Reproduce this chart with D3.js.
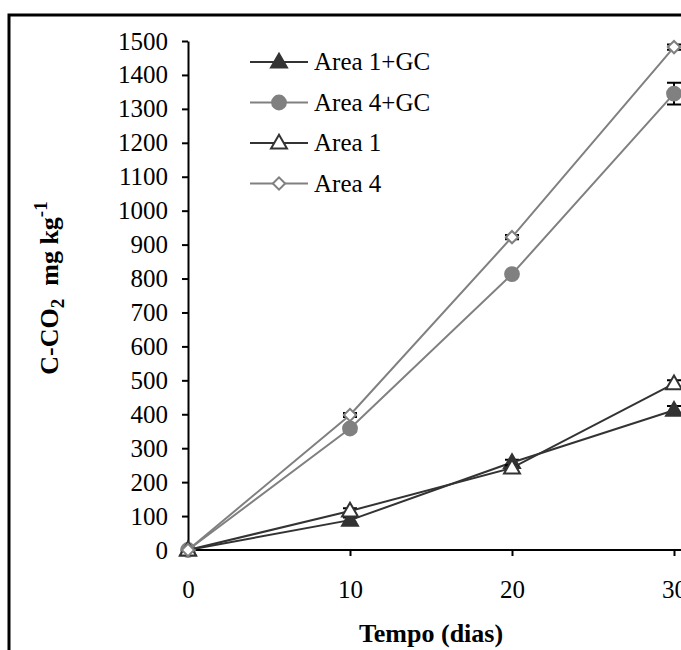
<!DOCTYPE html>
<html>
<head>
<meta charset="utf-8">
<script src="https://cdn.jsdelivr.net/npm/d3@7"></script>
<style>
  body { margin: 0; background: #fff; }
  svg { display: block; }
  svg text { font-family: "Liberation Serif", "DejaVu Serif", "Times New Roman", serif; }
</style>
</head>
<body>
<svg id="chart"></svg>
<script>
// days and series values
const days = [0, 10, 20, 30];
const area1GC = [0, 88, 258, 412];
const area4GC = [0, 358, 813, 1345];
const area1 = [0, 115, 242, 490];
const area4 = [0, 398, 922, 1482];
// standard errors (approx)
const area1GCErr = [0, 8, 8, 12];
const area4GCErr = [0, 8, 6, 32];
const area1Err = [0, 8, 8, 10];
const area4Err = [0, 6, 6, 8];
const yTicks = [0, 100, 200, 300, 400, 500, 600, 700, 800, 900, 1000, 1100, 1200, 1300, 1400, 1500];
const xTicks = [0, 10, 20, 30];

const width = 681, height = 650;
const serif = "'Liberation Serif', 'DejaVu Serif', 'Times New Roman', serif";
const svg = d3.select("#chart").attr("width", width).attr("height", height);

// outer frame (cut off at right and bottom)
svg.append("path")
    .attr("d", "M9,700 L9,15 L700,15")
    .attr("fill", "none")
    .attr("stroke", "#000")
    .attr("stroke-width", 3);

const x = d3.scaleLinear().domain([0, 30]).range([188, 674]);
const y = d3.scaleLinear().domain([0, 1500]).range([550, 41]);

// y axis
const yAxis = svg.append("g")
    .attr("transform", "translate(188,0)")
    .call(d3.axisLeft(y).tickValues(yTicks).tickFormat(d3.format("d")).tickSize(6).tickSizeOuter(0).tickPadding(14));
yAxis.attr("font-family", serif);
yAxis.select(".domain").attr("stroke-width", 2);
yAxis.selectAll(".tick line").attr("stroke-width", 2);
yAxis.selectAll("text").attr("font-size", 25).attr("fill", "#000");

// x axis
const xAxis = svg.append("g")
    .attr("transform", "translate(0,550)")
    .call(d3.axisBottom(x).tickValues(xTicks).tickSize(6).tickSizeOuter(0).tickPadding(24));
xAxis.attr("font-family", serif);
xAxis.select(".domain").attr("d", "M188,0H700").attr("stroke-width", 2);
xAxis.selectAll(".tick line").attr("stroke-width", 2);
xAxis.selectAll("text").attr("font-size", 25).attr("fill", "#000");

// axis titles
svg.append("text")
    .attr("x", 431)
    .attr("y", 642)
    .attr("text-anchor", "middle")
    .style("font-size", "26px")
    .style("font-weight", "bold")
    .text("Tempo (dias)");

const yTitle = svg.append("text")
    .attr("transform", "translate(58,288) rotate(-90)")
    .attr("text-anchor", "middle")
    .style("font-size", "26px")
    .style("font-weight", "bold");
yTitle.append("tspan").text("C-CO");
yTitle.append("tspan").attr("dy", 6).style("font-size", "19px").text("2");
yTitle.append("tspan").attr("dy", -6).text("\u00a0 mg kg");
yTitle.append("tspan").attr("dy", -11).style("font-size", "19px").text("-1");

const series = [
    { name: "Area 1+GC", values: area1GC, err: area1GCErr, color: "#333333", symbol: d3.symbolTriangle, size: 110, fill: "#333333", rot: 0 },
    { name: "Area 4+GC", values: area4GC, err: area4GCErr, color: "#808080", symbol: d3.symbolCircle, size: 150, fill: "#808080", rot: 0 },
    { name: "Area 1", values: area1, err: area1Err, color: "#333333", symbol: d3.symbolTriangle, size: 110, fill: "#fff", rot: 0 },
    { name: "Area 4", values: area4, err: area4Err, color: "#808080", symbol: d3.symbolSquare, size: 75, fill: "#fff", rot: 45 }
];

const line = d3.line().x(d => x(d[0])).y(d => y(d[1]));

series.forEach(s => {
    const pts = days.map((d, i) => [d, s.values[i], s.err[i]]);
    const g = svg.append("g");
    // error bars
    pts.filter(p => p[2] > 0).forEach(p => {
        const cx = x(p[0]);
        g.append("path")
            .attr("d", `M${cx},${y(p[1] - p[2])}V${y(p[1] + p[2])}M${cx - 7},${y(p[1] + p[2])}H${cx + 7}M${cx - 7},${y(p[1] - p[2])}H${cx + 7}`)
            .attr("stroke", "#000")
            .attr("stroke-width", 2)
            .attr("fill", "none");
    });
    g.append("path")
        .datum(pts)
        .attr("d", line)
        .attr("fill", "none")
        .attr("stroke", s.color)
        .attr("stroke-width", 2);
    g.selectAll(".pt")
        .data(pts)
        .enter()
        .append("path")
        .attr("transform", d => `translate(${x(d[0])},${y(d[1]) + (s.symbol === d3.symbolTriangle ? 1 : 0)}) rotate(${s.rot})`)
        .attr("d", d3.symbol().type(s.symbol).size(s.size))
        .attr("fill", s.fill)
        .attr("stroke", s.color)
        .attr("stroke-width", 2);
});

// legend
const legend = svg.append("g");
series.forEach((s, i) => {
    const ly = 62 + i * 40.5;
    legend.append("line")
        .attr("x1", 250).attr("x2", 308)
        .attr("y1", ly).attr("y2", ly)
        .attr("stroke", s.color)
        .attr("stroke-width", 2);
    legend.append("path")
        .attr("transform", `translate(279,${ly + (s.symbol === d3.symbolTriangle ? 1 : 0)}) rotate(${s.rot})`)
        .attr("d", d3.symbol().type(s.symbol).size(s.size))
        .attr("fill", s.fill)
        .attr("stroke", s.color)
        .attr("stroke-width", 2);
    legend.append("text")
        .attr("x", 314)
        .attr("y", ly + 8)
        .style("font-size", "25px")
        .text(s.name);
});
</script>
</body>
</html>
